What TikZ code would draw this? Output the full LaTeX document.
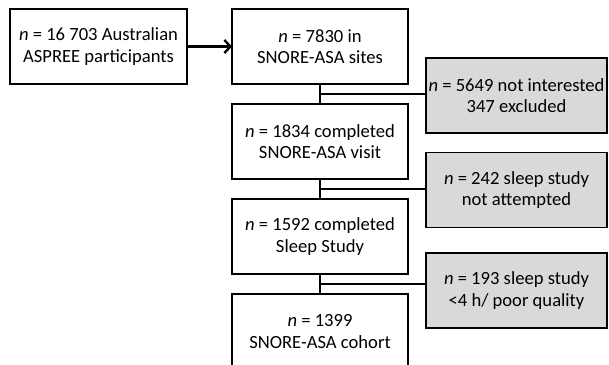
\documentclass[tikz,border=0pt]{standalone}
\usepackage{fontspec}
\setmainfont{Carlito}
\usetikzlibrary{arrows.meta, positioning, calc}
\definecolor{exclgray}{RGB}{217,217,217}

\begin{document}
\begin{tikzpicture}[
   x=1pt, y=1pt, >={Straight Barb[length=6pt,width=13pt]}, line width=1.8pt,
   box/.style={draw, align=center, outer sep=0pt, inner sep=2pt, minimum width=176pt,
               minimum height=75pt, font=\fontsize{18.6}{21.5}\selectfont},
   exclbox/.style={box, fill=exclgray, minimum width=181pt}]
  \useasboundingbox (0,0) rectangle (609,-364);
  \node[box, minimum width=177pt] (aspree) at (98.5,-46.5) {\textit{n} = 16 703 Australian\\ASPREE participants};
  \node[box, right=45pt of aspree] (sites) {\textit{n} = 7830 in\\SNORE-ASA sites};
  \node[box, below=20pt of sites] (visit) {\textit{n} = 1834 completed\\SNORE-ASA visit};
  \node[box, below=20pt of visit] (study) {\textit{n} = 1592 completed\\Sleep Study};
  \node[box, below=20pt of study] (cohort) {\textit{n} = 1399\\SNORE-ASA cohort};
  \node[exclbox, right=18pt of sites, yshift=-49pt] (excl1) {\textit{n} = 5649 not interested\\347 excluded};
  \node[exclbox, right=18pt of visit, yshift=-48.5pt] (excl2) {\textit{n} = 242 sleep study\\not attempted};
  \node[exclbox, right=18pt of study, yshift=-54pt] (excl3) {\textit{n} = 193 sleep study\\<4 h/ poor quality};
  % flow
  \draw[->, line width=2.4pt] (aspree) -- (sites);
  \draw (sites) -- (visit);
  \draw (visit) -- (study);
  \draw (study) -- (cohort);
  % exclusions
  \coordinate (split1) at ($(sites.south)!0.5!(visit.north)$);
  \coordinate (split2) at ($(visit.south)!0.5!(study.north)$);
  \coordinate (split3) at ($(study.south)!0.5!(cohort.north)$);
  \draw (split1) -- (split1 -| excl1.west);
  \draw (split2) -- (split2 -| excl2.west);
  \draw (split3) -- (split3 -| excl3.west);
\end{tikzpicture}
\end{document}
